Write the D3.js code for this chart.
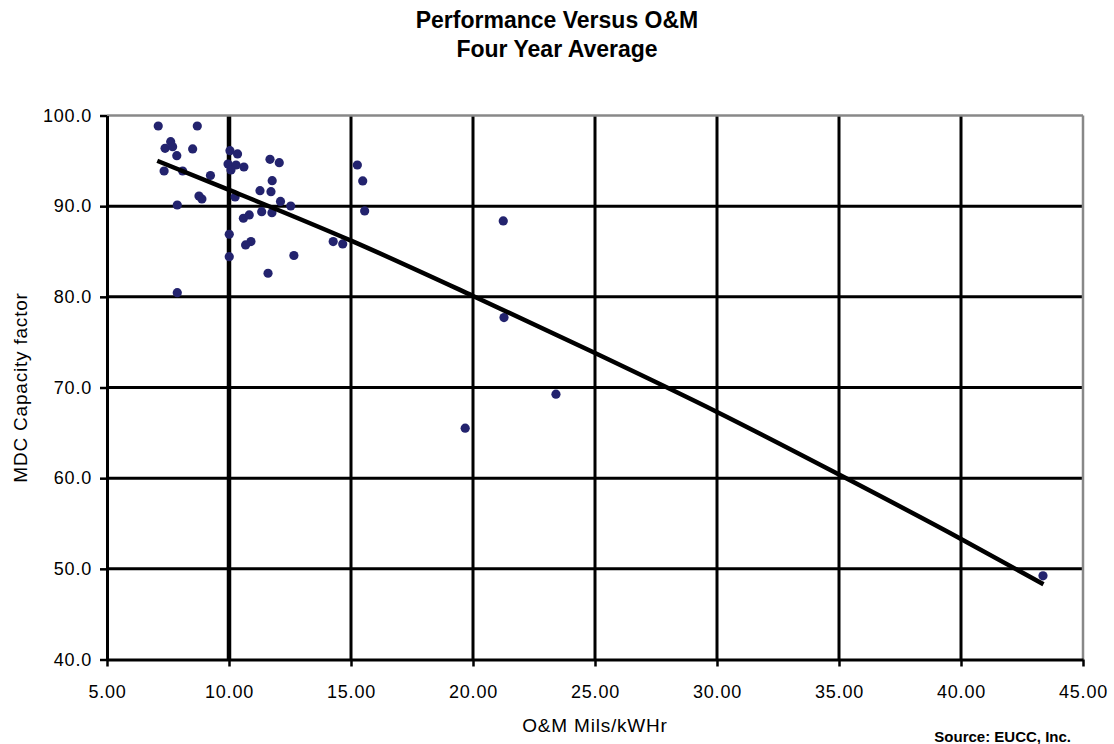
<!DOCTYPE html>
<html>
<head>
<meta charset="utf-8">
<script src="https://d3js.org/d3.v7.min.js"></script>
<style>
    body { margin: 0; background: #ffffff; }
    svg { display: block; }
    text { font-family: "Liberation Sans", Arial, sans-serif; fill: #000000; }
</style>
</head>
<body>
<svg width="1114" height="744"></svg>
<script>
    var width = 1114;
    var height = 744;

    // O&M cost (mils/kWh) of each plant
    var omCost = [7.10, 8.70, 7.61, 7.38, 7.69, 8.51, 7.86, 10.04, 10.35, 9.96,
                  10.29, 10.61, 10.08, 7.34, 8.10, 11.68, 12.06, 9.24, 11.77, 8.77,
                  8.89, 11.27, 11.72, 10.25, 12.11, 12.53, 7.88, 11.34, 11.76, 10.59,
                  10.83, 10.01, 10.90, 10.68, 10.01, 12.66, 11.60, 7.88, 14.27, 14.66,
                  15.26, 15.48, 15.56, 21.24, 21.27, 23.40, 19.68, 43.36];

    // MDC capacity factor of each plant
    var capFactor = [98.84, 98.84, 97.11, 96.38, 96.56, 96.31, 95.57, 96.12, 95.76, 94.65,
                     94.54, 94.32, 93.99, 93.88, 93.88, 95.17, 94.80, 93.38, 92.81, 91.12,
                     90.79, 91.71, 91.60, 91.01, 90.52, 90.02, 90.13, 89.39, 89.28, 88.67,
                     89.03, 86.90, 86.09, 85.72, 84.43, 84.56, 82.60, 80.46, 86.09, 85.83,
                     94.54, 92.78, 89.47, 88.37, 77.71, 69.26, 65.51, 49.23];

    // trend line, read at a few x positions along the drawn line
    var trendX = [7.06, 10, 15, 20, 25, 30, 35, 40, 43.38];
    var trendY = [95.0, 91.8, 86.2, 80.1, 73.8, 67.3, 60.4, 53.3, 48.3];

    var xTicks = [5, 10, 15, 20, 25, 30, 35, 40, 45];
    var yTicks = [40, 50, 60, 70, 80, 90, 100];

    var plotLeft = 107, plotRight = 1083, plotTop = 115.5, plotBottom = 659.5;

    var svg = d3.select("svg");

    var x = d3.scaleLinear().domain([5, 45]).range([plotLeft, plotRight]);
    var y = d3.scaleLinear().domain([40, 100]).range([plotBottom, plotTop]);

    // Title
    svg.append("text")
        .attr("x", 557).attr("y", 28)
        .attr("text-anchor", "middle")
        .style("font-size", "23px").style("font-weight", "bold")
        .text("Performance Versus O&M");
    svg.append("text")
        .attr("x", 557).attr("y", 57)
        .attr("text-anchor", "middle")
        .style("font-size", "23px").style("font-weight", "bold")
        .text("Four Year Average");

    // Grid lines (black). 100 and 45 are the gray frame instead
    svg.selectAll(".hgrid")
        .data(yTicks.filter(d => d > 40 && d < 100))
        .enter().append("line")
        .attr("class", "hgrid")
        .attr("x1", plotLeft).attr("x2", plotRight)
        .attr("y1", d => y(d)).attr("y2", d => y(d))
        .style("stroke", "#000").style("stroke-width", 3);

    svg.selectAll(".vgrid")
        .data(xTicks.filter(d => d > 5 && d < 45))
        .enter().append("line")
        .attr("class", "vgrid")
        .attr("x1", d => x(d)).attr("x2", d => x(d))
        .attr("y1", plotTop).attr("y2", plotBottom)
        .style("stroke", "#000")
        .style("stroke-width", d => d == 10 ? 4.5 : 3);

    // gray frame on top and right
    svg.append("line")
        .attr("x1", plotLeft).attr("x2", plotRight)
        .attr("y1", plotTop).attr("y2", plotTop)
        .style("stroke", "#888").style("stroke-width", 2.5);
    svg.append("line")
        .attr("x1", plotRight).attr("x2", plotRight)
        .attr("y1", plotTop).attr("y2", plotBottom)
        .style("stroke", "#888").style("stroke-width", 2.5);

    // Axes
    var yAxis = svg.append("g")
        .attr("transform", "translate(" + plotLeft + ",0)")
        .call(d3.axisLeft(y).tickValues(yTicks).tickFormat(d3.format(".1f"))
            .tickSize(7).tickSizeOuter(0).tickPadding(8));
    var xAxis = svg.append("g")
        .attr("transform", "translate(0," + plotBottom + ")")
        .call(d3.axisBottom(x).tickValues(xTicks).tickFormat(d3.format(".2f"))
            .tickSize(7).tickSizeOuter(0).tickPadding(19));

    [yAxis, xAxis].forEach(function (ax) {
        ax.select(".domain").style("stroke", "#000").style("stroke-width", 3);
        ax.selectAll(".tick line").style("stroke", "#000").style("stroke-width", 2.5);
        ax.selectAll(".tick text")
            .style("font-size", "18px")
            .style("letter-spacing", "0.8px")
            .style("font-family", "'Liberation Sans', Arial, sans-serif")
            .style("fill", "#000");
    });

    // Points
    var points = omCost.map((d, i) => ({ om: d, cf: capFactor[i] }));
    svg.selectAll(".plant")
        .data(points)
        .enter().append("circle")
        .attr("class", "plant")
        .attr("cx", d => x(d.om))
        .attr("cy", d => y(d.cf))
        .attr("r", 4.6)
        .style("fill", "#23236e");

    // Trend line
    var trend = trendX.map((d, i) => [d, trendY[i]]);
    var line = d3.line()
        .x(d => x(d[0]))
        .y(d => y(d[1]))
        .curve(d3.curveMonotoneX);
    svg.append("path")
        .datum(trend)
        .attr("d", line)
        .style("fill", "none")
        .style("stroke", "#000")
        .style("stroke-width", 4.5);

    // Axis titles
    svg.append("text")
        .attr("x", (plotLeft + plotRight) / 2).attr("y", 732)
        .attr("text-anchor", "middle")
        .style("font-size", "19px").style("letter-spacing", "0.8px")
        .text("O&M Mils/kWHr");

    svg.append("text")
        .attr("transform", "translate(27," + (plotTop + plotBottom) / 2 + ") rotate(-90)")
        .attr("text-anchor", "middle")
        .style("font-size", "19px").style("letter-spacing", "0.8px")
        .text("MDC Capacity factor");

    // Source note
    svg.append("text")
        .attr("x", 1071).attr("y", 742)
        .attr("text-anchor", "end")
        .style("font-size", "15px").style("font-weight", "bold")
        .text("Source: EUCC, Inc.");
</script>
</body>
</html>
